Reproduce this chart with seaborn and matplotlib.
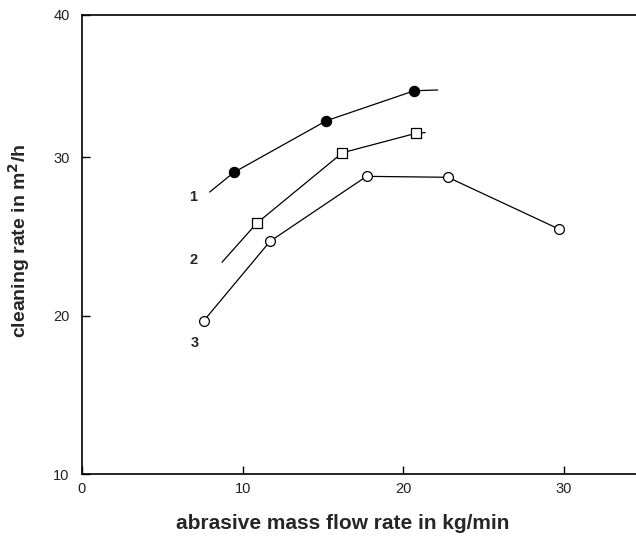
import matplotlib
matplotlib.use("Agg")
import matplotlib.pyplot as plt
import seaborn as sns
import pandas as pd

# measured points
s1_x = [9.46, 15.22, 20.69]
s1_y = [29.03, 32.29, 34.18]
s2_x = [10.88, 16.22, 20.81]
s2_y = [25.82, 30.27, 31.50]
s3_x = [7.57, 11.71, 17.72, 22.79, 29.69]
s3_y = [19.65, 24.68, 28.78, 28.72, 25.46]

# fitted curves (incl. extensions)
c1_x = [7.95, 9.46, 15.22, 20.69, 22.15]
c1_y = [27.79, 29.03, 32.29, 34.18, 34.23]
c2_x = [8.72, 10.88, 16.22, 20.81, 21.37]
c2_y = [23.36, 25.82, 30.27, 31.50, 31.54]
c3_x = s3_x
c3_y = s3_y

curve_labels = ["1", "2", "3"]
label_x = [6.95, 6.97, 7.0]
label_y = [27.47, 23.50, 18.27]

x_ticks = [0, 10, 20, 30]
x_tick_labels = ["0", "10", "20", "30"]
y_top = 38.96
y_ticks = [10, 20, 30, y_top]
y_tick_labels = ["10", "20", "30", "40"]

sns.set_style("ticks")
plt.rcParams["font.family"] = ["Liberation Sans", "DejaVu Sans"]

fig = plt.figure(figsize=(6.36, 5.36), dpi=100)
ax = fig.add_axes([82 / 636, 62 / 536, 554 / 636, 459 / 536])

curves = pd.concat([
    pd.DataFrame({"x": c1_x, "y": c1_y, "s": "1"}),
    pd.DataFrame({"x": c2_x, "y": c2_y, "s": "2"}),
    pd.DataFrame({"x": c3_x, "y": c3_y, "s": "3"}),
])
sns.lineplot(data=curves, x="x", y="y", units="s", estimator=None, sort=False,
             color="black", linewidth=0.9, ax=ax, legend=False)

sns.scatterplot(x=s1_x, y=s1_y, marker="o", s=55, color="black",
                edgecolor="black", linewidth=0.8, ax=ax, zorder=3)
sns.scatterplot(x=s2_x, y=s2_y, marker="s", s=45, facecolor="white",
                edgecolor="black", linewidth=0.9, ax=ax, zorder=3)
sns.scatterplot(x=s3_x, y=s3_y, marker="o", s=50, facecolor="white",
                edgecolor="black", linewidth=0.9, ax=ax, zorder=3)

for t, lx, ly in zip(curve_labels, label_x, label_y):
    ax.text(lx, ly, t, fontsize=10.5, fontweight="bold", ha="center", va="center")

ax.set_xlim(0, 34.5)
ax.set_ylim(10, y_top)
ax.set_xticks(x_ticks)
ax.set_xticklabels(x_tick_labels)
ax.set_yticks(y_ticks)
ax.set_yticklabels(y_tick_labels)
for lab in ax.get_xticklabels() + ax.get_yticklabels():
    lab.set_fontsize(10.5)
ax.tick_params(axis="y", direction="in", length=6, width=1.0, color="black",
               pad=9, labelcolor="#222222")
ax.tick_params(axis="x", direction="in", length=6, width=1.0, color="black",
               pad=6, labelcolor="#222222")

for side in ["left", "top", "bottom"]:
    ax.spines[side].set_linewidth(1.2)
    ax.spines[side].set_color("black")
ax.spines["right"].set_visible(False)

ax.set_xlabel("abrasive mass flow rate in kg/min", fontsize=15, fontweight="bold")
ax.set_ylabel("cleaning rate in m$^\\mathbf{2}$/h", fontsize=14, fontweight="bold")
ax.xaxis.set_label_coords(0.4697, -0.088)
ax.yaxis.set_label_coords(-0.090, 0.507)

fig.savefig("out.png", dpi=100)
